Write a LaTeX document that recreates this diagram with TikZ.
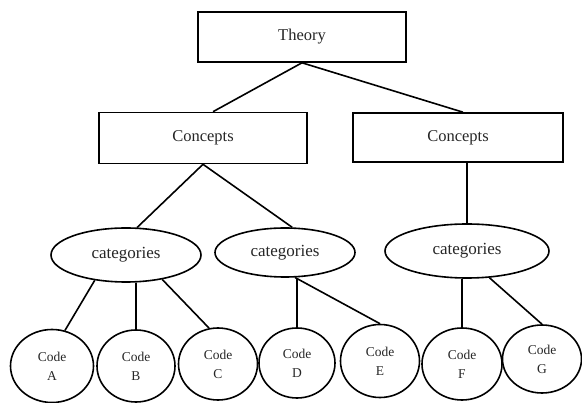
\documentclass[tikz,border=0pt]{standalone}
\usepackage{fontspec}
\setmainfont{Liberation Serif}
\usetikzlibrary{shapes.geometric}

\begin{document}
\begin{tikzpicture}[x=1pt,y=-1pt,line width=1.6pt]
\tikzstyle{every node}+=[inner sep=0pt,text=black!85]
\tikzstyle{box}=[draw,rectangle,font=\fontsize{16.5}{18}\selectfont]
\tikzstyle{cat}=[draw,ellipse,font=\fontsize{17}{18}\selectfont]
\tikzstyle{code}=[draw,ellipse,align=center,font=\fontsize{13.5}{19}\selectfont]
\useasboundingbox (0,0) rectangle (582,403);

\node[box,minimum width=208pt,minimum height=50pt] (theory) at (302,37) {Theory};

\node[box,minimum width=208pt,minimum height=51pt] (conL) at (203,138) {Concepts};
\node[box,minimum width=210pt,minimum height=49pt] (conR) at (458,137.5) {Concepts};

\node[cat,minimum width=150pt,minimum height=54pt] (catL) at (126,255) {categories};
\node[cat,minimum width=140pt,minimum height=49pt] (catM) at (285,252.5) {categories};
\node[cat,minimum width=164pt,minimum height=54pt] (catR) at (467,251) {categories};

\node[code,minimum width=83pt,minimum height=73pt] (codeA) at (52,366) {Code\\A};
\node[code,minimum width=78pt,minimum height=72pt] (codeB) at (136,366) {Code\\B};
\node[code,minimum width=79pt,minimum height=72pt] (codeC) at (218,364) {Code\\C};
\node[code,minimum width=76pt,minimum height=70pt] (codeD) at (297,363) {Code\\D};
\node[code,minimum width=79pt,minimum height=73pt] (codeE) at (380,361) {Code\\E};
\node[code,minimum width=80pt,minimum height=72pt] (codeF) at (462,364) {Code\\F};
\node[code,minimum width=79pt,minimum height=68pt] (codeG) at (542,359) {Code\\G};

% theory to concepts
\draw (theory.south) -- ([xshift=10pt]conL.north);
\draw (theory.south) -- ([xshift=5pt]conR.north);

% concepts to categories
\draw (conL.south) -- (catL.68);
\draw (conL.south) -- (catM.74);
\draw (catR.north) -- (catR.north |- conR.south);

% categories to codes
\draw (catL.219) -- (codeA.70);
\draw (codeB.north) -- (codeB.north |- catL.south);
\draw (catL.-34) -- (codeC.104);
\draw (codeD.north) -- (codeD.north |- catM.south);
\draw (catM.-68) -- (codeE.north);
\draw (codeF.north) -- (codeF.north |- catR.south);
\draw (catR.-50) -- (codeG.north);
\end{tikzpicture}
\end{document}
